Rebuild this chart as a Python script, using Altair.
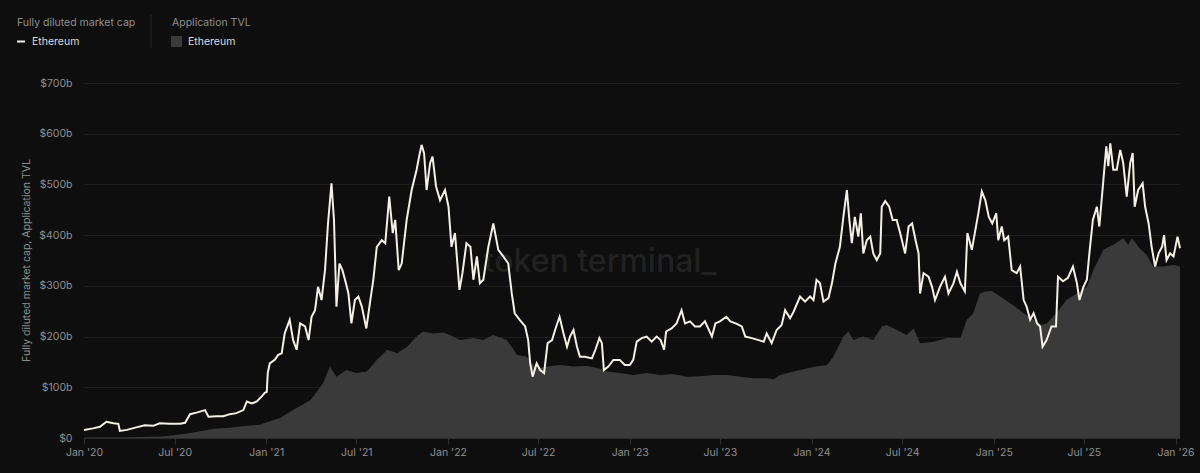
import altair as alt
import pandas as pd

# ---- data (values in $ billions) ----
fdv_dates = [
    "2020-01-01", "2020-01-19", "2020-02-02", "2020-02-15", "2020-02-29", "2020-03-10", "2020-03-13",
    "2020-03-27", "2020-04-15", "2020-05-02", "2020-05-19", "2020-06-01", "2020-06-21", "2020-07-12",
    "2020-07-22", "2020-08-01", "2020-08-14", "2020-08-31", "2020-09-07", "2020-09-23", "2020-10-07",
    "2020-10-20", "2020-11-02", "2020-11-16", "2020-11-23", "2020-12-03", "2020-12-13", "2020-12-23",
    "2020-12-29", "2021-01-02", "2021-01-04", "2021-01-08", "2021-01-18", "2021-01-25", "2021-02-01",
    "2021-02-07", "2021-02-17", "2021-02-24", "2021-03-03", "2021-03-10", "2021-03-20", "2021-03-27",
    "2021-04-02", "2021-04-09", "2021-04-15", "2021-04-22", "2021-04-29", "2021-05-05", "2021-05-12",
    "2021-05-17", "2021-05-22", "2021-05-28", "2021-06-03", "2021-06-10", "2021-06-15", "2021-06-21",
    "2021-06-28", "2021-07-05", "2021-07-12", "2021-07-21", "2021-07-29", "2021-08-04", "2021-08-11",
    "2021-08-21", "2021-08-28", "2021-09-05", "2021-09-12", "2021-09-17", "2021-09-24", "2021-09-30",
    "2021-10-10", "2021-10-20", "2021-10-30", "2021-11-04", "2021-11-09", "2021-11-14", "2021-11-19",
    "2021-11-26", "2021-12-01", "2021-12-08", "2021-12-16", "2021-12-26", "2022-01-02", "2022-01-08",
    "2022-01-15", "2022-01-24", "2022-01-30", "2022-02-07", "2022-02-15", "2022-02-21", "2022-02-28",
    "2022-03-06", "2022-03-13", "2022-03-23", "2022-04-02", "2022-04-12", "2022-04-22", "2022-05-02",
    "2022-05-09", "2022-05-15", "2022-05-25", "2022-06-05", "2022-06-11", "2022-06-15", "2022-06-20",
    "2022-06-28", "2022-07-05", "2022-07-13", "2022-07-20", "2022-07-29", "2022-08-04", "2022-08-13",
    "2022-08-21", "2022-08-28", "2022-09-03", "2022-09-10", "2022-09-17", "2022-09-23", "2022-10-03",
    "2022-10-17", "2022-10-24", "2022-11-01", "2022-11-06", "2022-11-10", "2022-11-19", "2022-11-29",
    "2022-12-12", "2022-12-22", "2023-01-01", "2023-01-08", "2023-01-15", "2023-01-25", "2023-02-04",
    "2023-02-14", "2023-02-24", "2023-03-04", "2023-03-11", "2023-03-15", "2023-03-26", "2023-04-05",
    "2023-04-15", "2023-04-22", "2023-05-02", "2023-05-12", "2023-05-22", "2023-06-01", "2023-06-15",
    "2023-06-22", "2023-07-01", "2023-07-14", "2023-07-22", "2023-08-04", "2023-08-14", "2023-08-21",
    "2023-09-03", "2023-09-17", "2023-09-27", "2023-10-03", "2023-10-13", "2023-10-23", "2023-11-02",
    "2023-11-09", "2023-11-19", "2023-11-26", "2023-12-09", "2023-12-19", "2023-12-29", "2024-01-05",
    "2024-01-11", "2024-01-18", "2024-01-25", "2024-02-04", "2024-02-11", "2024-02-18", "2024-02-27",
    "2024-03-05", "2024-03-12", "2024-03-17", "2024-03-22", "2024-03-28", "2024-04-04", "2024-04-09",
    "2024-04-14", "2024-04-21", "2024-04-28", "2024-05-04", "2024-05-11", "2024-05-18", "2024-05-21",
    "2024-05-28", "2024-06-05", "2024-06-12", "2024-06-20", "2024-06-27", "2024-07-07", "2024-07-14",
    "2024-07-21", "2024-07-28", "2024-08-03", "2024-08-06", "2024-08-13", "2024-08-23", "2024-08-30",
    "2024-09-05", "2024-09-15", "2024-09-25", "2024-10-02", "2024-10-12", "2024-10-19", "2024-10-26",
    "2024-11-04", "2024-11-09", "2024-11-18", "2024-11-25", "2024-12-01", "2024-12-08", "2024-12-15",
    "2024-12-22", "2024-12-29", "2025-01-06", "2025-01-10", "2025-01-17", "2025-01-22", "2025-01-30",
    "2025-02-06", "2025-02-16", "2025-02-23", "2025-03-02", "2025-03-08", "2025-03-15", "2025-03-22",
    "2025-03-29", "2025-04-04", "2025-04-09", "2025-04-17", "2025-04-27", "2025-05-06", "2025-05-10",
    "2025-05-20", "2025-05-30", "2025-06-09", "2025-06-17", "2025-06-22", "2025-06-30", "2025-07-07",
    "2025-07-12", "2025-07-19", "2025-07-27", "2025-08-01", "2025-08-08", "2025-08-15", "2025-08-19",
    "2025-08-23", "2025-08-29", "2025-09-05", "2025-09-12", "2025-09-18", "2025-09-25", "2025-10-02",
    "2025-10-07", "2025-10-11", "2025-10-18", "2025-10-27", "2025-11-01", "2025-11-08", "2025-11-14",
    "2025-11-21", "2025-11-28", "2025-12-05", "2025-12-09", "2025-12-14", "2025-12-21", "2025-12-28",
    "2026-01-05", "2026-01-10",
]
fdv_values = [
    15.8, 19, 22, 32, 29, 28, 14,
    16, 21, 25, 24, 29, 28, 28,
    30, 47, 50, 55, 42, 43, 43,
    47, 49, 55, 72, 68, 72, 82,
    89, 91, 128, 147, 154, 164, 167,
    206, 233, 193, 174, 226, 220, 193,
    239, 252, 298, 272, 331, 423, 502,
    430, 259, 344, 331, 305, 285, 226,
    272, 279, 259, 216, 272, 312, 377,
    390, 384, 476, 404, 430, 331, 344,
    430, 489, 529, 555, 578, 561, 489,
    542, 555, 496, 469, 489, 456, 377,
    404, 292, 325, 384, 377, 312, 358,
    305, 312, 377, 423, 371, 358, 344,
    285, 246, 233, 220, 193, 147, 121,
    147, 134, 128, 187, 193, 213, 239,
    206, 180, 200, 213, 180, 160, 160,
    157, 174, 197, 187, 134, 141, 154,
    154, 144, 144, 154, 190, 197, 200,
    190, 200, 193, 174, 210, 216, 226,
    252, 226, 230, 220, 220, 230, 200,
    226, 230, 239, 230, 225, 220, 200,
    197, 193, 190, 206, 187, 213, 223,
    252, 236, 249, 279, 269, 279, 272,
    312, 305, 269, 276, 305, 344, 377,
    436, 489, 430, 384, 436, 397, 443,
    364, 390, 397, 364, 351, 364, 456,
    467, 456, 430, 430, 404, 364, 417,
    423, 390, 364, 285, 325, 318, 298,
    272, 298, 318, 285, 305, 328, 305,
    289, 404, 371, 410, 443, 486, 469,
    436, 423, 443, 390, 417, 390, 397,
    331, 325, 338, 272, 259, 233, 246,
    226, 220, 180, 193, 220, 220, 318,
    309, 316, 338, 305, 272, 298, 312,
    364, 430, 456, 417, 496, 575, 536,
    581, 529, 529, 568, 542, 476, 542,
    562, 456, 489, 502, 456, 423, 377,
    338, 364, 377, 400, 351, 364, 358,
    397, 374,
]

tvl_dates = [
    "2020-01-01", "2020-04-02", "2020-06-08", "2020-07-12", "2020-08-14", "2020-09-17", "2020-10-20",
    "2020-11-23", "2020-12-19", "2021-01-02", "2021-01-28", "2021-02-24", "2021-03-31", "2021-04-25",
    "2021-05-09", "2021-05-22", "2021-06-11", "2021-07-01", "2021-07-22", "2021-08-11", "2021-09-01",
    "2021-09-21", "2021-10-11", "2021-10-30", "2021-11-12", "2021-12-02", "2021-12-22", "2022-01-05",
    "2022-01-25", "2022-02-21", "2022-03-13", "2022-04-02", "2022-04-29", "2022-05-09", "2022-05-19",
    "2022-06-08", "2022-06-28", "2022-07-19", "2022-08-14", "2022-09-10", "2022-10-07", "2022-11-02",
    "2022-11-16", "2022-12-12", "2023-01-08", "2023-02-04", "2023-03-03", "2023-03-29", "2023-04-25",
    "2023-05-22", "2023-06-19", "2023-07-15", "2023-08-11", "2023-09-07", "2023-10-03", "2023-10-17",
    "2023-10-30", "2023-11-26", "2023-12-22", "2024-01-10", "2024-02-01", "2024-02-14", "2024-03-05",
    "2024-03-15", "2024-03-25", "2024-04-14", "2024-05-04", "2024-05-21", "2024-05-31", "2024-06-20",
    "2024-07-10", "2024-07-24", "2024-08-06", "2024-09-03", "2024-09-29", "2024-10-26", "2024-11-08",
    "2024-11-21", "2024-12-04", "2024-12-15", "2024-12-28", "2025-01-14", "2025-02-09", "2025-03-02",
    "2025-03-22", "2025-04-07", "2025-04-17", "2025-05-07", "2025-05-27", "2025-06-17", "2025-07-07",
    "2025-07-20", "2025-08-09", "2025-08-29", "2025-09-18", "2025-09-28", "2025-10-05", "2025-10-21",
    "2025-11-04", "2025-11-17", "2025-12-08", "2025-12-28", "2026-01-10",
]
tvl_values = [
    1, 1.5, 3, 7, 12, 18, 20,
    24, 26, 31, 39, 55, 75, 108,
    141, 121, 134, 128, 131, 154, 174,
    167, 180, 200, 210, 206, 208, 203,
    193, 197, 193, 203, 193, 180, 164,
    160, 137, 141, 144, 141, 142, 137,
    131, 128, 124, 128, 124, 126, 121,
    122, 124, 124, 121, 118, 118, 116,
    124, 131, 137, 141, 144, 160, 200,
    210, 193, 200, 193, 220, 223, 213,
    203, 216, 187, 190, 197, 197, 233,
    246, 285, 289, 290, 279, 262, 246,
    233, 223, 226, 246, 272, 285, 298,
    331, 371, 381, 394, 381, 394, 374,
    361, 338, 338, 341, 338,
]

y_ticks = [0, 100, 200, 300, 400, 500, 600, 700]
x_tick_years = [2020, 2020, 2021, 2021, 2022, 2022, 2023, 2023, 2024, 2024, 2025, 2025, 2026]
x_tick_months = [1, 7, 1, 7, 1, 7, 1, 7, 1, 7, 1, 7, 1]

fdv = pd.DataFrame({"date": fdv_dates, "value": fdv_values})
tvl = pd.DataFrame({"date": tvl_dates, "value": tvl_values})
one = pd.DataFrame({"k": [0]})

FONT = "Inter"
BG = "#0e0e0e"
LINE = "#f4f0e4"
AREA = "#3a3a3a"
MUTED = "#8f8f8f"

x_axis = alt.Axis(
    values=[alt.DateTime(year=y, month=m, date=1, utc=True) for y, m in zip(x_tick_years, x_tick_months)],
    format="%b '%y", title=None, grid=False,
    domain=True, domainColor="#2a2a2a", ticks=True, tickColor="#2e2e2e", tickSize=6,
    labelPadding=3, labelColor=MUTED, labelFont=FONT, labelFontSize=10.5, labelFlush=False,
)
x_scale = alt.Scale(
    type="utc",
    domain=[alt.DateTime(year=2020, month=1, date=1, utc=True),
            alt.DateTime(year=2026, month=1, date=10, utc=True)],
)
y_axis = alt.Axis(
    values=y_ticks, labelExpr="datum.value == 0 ? '$0' : '$' + datum.value + 'b'",
    title="Fully diluted market cap, Application TVL",
    grid=True, gridColor="#1d1d1d", domain=False, ticks=False,
    labelPadding=12, labelColor=MUTED, labelFont=FONT, labelFontSize=10.5,
    titleColor=MUTED, titleFont=FONT, titleFontSize=10.5, titleFontWeight="normal",
    titleX=-58, titleY=177, titleBaseline="middle", titleAlign="center",
)
y_scale = alt.Scale(domain=[0, 700], nice=False, zero=True)

x_enc = alt.X("date:T", scale=x_scale, axis=x_axis)
y_enc = alt.Y("value:Q", scale=y_scale, axis=y_axis)

watermark = alt.Chart(one).mark_text(
    text="token terminal_", font=FONT, fontSize=32, fontWeight=500, color="#212121",
    align="center", baseline="middle",
).encode(x=alt.value(516), y=alt.value(179))

area = alt.Chart(tvl).mark_area(color=AREA, opacity=1, interpolate="linear").encode(x=x_enc, y=y_enc)
line = alt.Chart(fdv).mark_line(color=LINE, strokeWidth=2, interpolate="linear").encode(x=x_enc, y=y_enc)


def label(txt, x, y, color, size=10.5):
    return alt.Chart(one).mark_text(
        text=txt, font=FONT, fontSize=size, color=color, align="left", baseline="middle"
    ).encode(x=alt.value(x), y=alt.value(y))


leg_t1 = label("Fully diluted market cap", -67, -60, MUTED)
leg_dash = alt.Chart(one).mark_rule(color=LINE, strokeWidth=2).encode(
    x=alt.value(-67), x2=alt.value(-59), y=alt.value(-41.5))
leg_e1 = label("Ethereum", -52, -41.5, "#dcdcdc")
leg_sep = alt.Chart(one).mark_rule(color="#262626", strokeWidth=1).encode(
    x=alt.value(67), y=alt.value(-68), y2=alt.value(-35))
leg_t2 = label("Application TVL", 88, -60, MUTED)
leg_sq = alt.Chart(one).mark_rect(color=AREA).encode(
    x=alt.value(87), x2=alt.value(98), y=alt.value(-47), y2=alt.value(-36))
leg_e2 = label("Ethereum", 104, -41.5, "#dcdcdc")

chart = alt.layer(
    watermark, area, line, leg_t1, leg_dash, leg_e1, leg_sep, leg_t2, leg_sq, leg_e2
).properties(
    width=1096, height=355,
    autosize=alt.AutoSizeParams(type="none"),
    padding={"left": 84, "top": 83, "right": 20, "bottom": 35},
    background=BG,
).configure_view(stroke=None)

chart.save("out.html", embed_options={"renderer": "svg", "actions": False})
